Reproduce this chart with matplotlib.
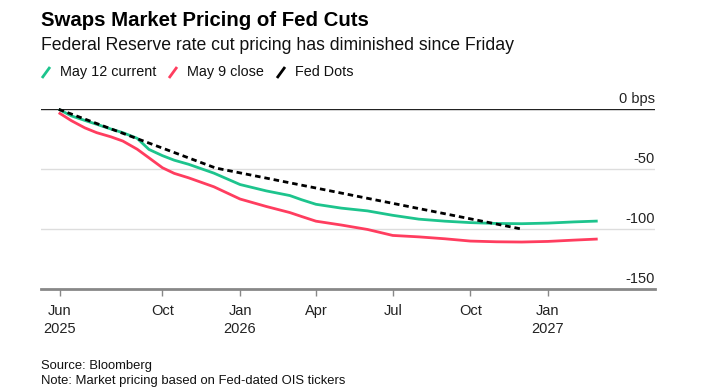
import numpy as np
import pandas as pd
import matplotlib
matplotlib.use("Agg")
import matplotlib.pyplot as plt
from matplotlib.lines import Line2D
from matplotlib.transforms import blended_transform_factory

plt.rcParams["font.family"] = ["Liberation Sans", "DejaVu Sans"]

# ── data (bps of cuts priced) ───────────────────────────────────────────────
dates = pd.to_datetime([
    "2025-05-31", "2025-06-15", "2025-07-01", "2025-07-15", "2025-08-01",
    "2025-08-15", "2025-09-01", "2025-09-15", "2025-10-01", "2025-10-15",
    "2025-11-01", "2025-12-01", "2026-01-01", "2026-02-01", "2026-03-01",
    "2026-03-15", "2026-04-01", "2026-05-01", "2026-06-01", "2026-07-01",
    "2026-08-01", "2026-09-01", "2026-10-01", "2026-11-01", "2026-12-01",
    "2027-01-01", "2027-02-01", "2027-03-01",
])
may12_current = [
    0, -5.5, -9.3, -12.5, -16.5,
    -19.5, -24.2, -33.5, -38.7, -42.5,
    -45.9, -53.3, -62.8, -68.1, -72.0,
    -75.5, -79.3, -82.5, -84.8, -88.5,
    -91.7, -93.4, -94.6, -95.3, -95.5,
    -95.0, -94.0, -93.3,
]
may9_close = [
    -2.8, -9.5, -15.5, -19.5, -23.0,
    -26.5, -33.3, -40.5, -48.8, -53.5,
    -57.2, -64.7, -74.9, -81.1, -86.2,
    -89.5, -93.4, -96.6, -100.3, -105.3,
    -106.5, -108.1, -110.0, -110.6, -110.8,
    -110.3, -109.2, -108.3,
]
dots_dates = pd.to_datetime(["2025-05-31", "2025-12-03", "2026-12-01"])
fed_dots = [0, -49, -100]

y_ticks = [0, -50, -100, -150]
y_labels = ["0 bps", "-50", "-100", "-150"]
x_ticks = pd.to_datetime(["2025-06-01", "2025-10-01", "2026-01-01", "2026-04-01",
                          "2026-07-01", "2026-10-01", "2027-01-01"])
x_labels = ["Jun\n2025", "Oct", "Jan\n2026", "Apr", "Jul", "Oct", "Jan\n2027"]

GREEN = "#1dc48d"
RED = "#ff3d5f"

# ── figure ──────────────────────────────────────────────────────────────────
fig = plt.figure(figsize=(7.23, 3.88), dpi=100)
ax = fig.add_axes([0.0567, 0.2552, 0.8493, 0.4631])

ax.plot(dates, may12_current, color=GREEN, lw=2.0, solid_capstyle="butt",
        solid_joinstyle="round", clip_on=False, zorder=3)
ax.plot(dates, may9_close, color=RED, lw=2.0, solid_capstyle="butt",
        solid_joinstyle="round", clip_on=False, zorder=3)
ax.plot(dots_dates, fed_dots, color="black", lw=2.0, dashes=(2.0, 1.4),
        clip_on=False, zorder=4)

ax.set_xlim(pd.Timestamp("2025-05-10"), pd.Timestamp("2027-05-08"))
ax.set_ylim(-150, 0)

# grid lines + zero line
for v in y_ticks[1:-1]:
    ax.axhline(v, color="#dddddd", lw=1.0, zorder=1)
ax.axhline(0, color="#222222", lw=1.0, zorder=2)

# y labels sit above their gridlines, inside at the right
tr = blended_transform_factory(ax.transAxes, ax.transData)
for v, lab in zip(y_ticks, y_labels):
    ax.text(1.0, v + 2.8, lab, transform=tr, ha="right", va="bottom",
            fontsize=10.5, color="#222222")
ax.set_yticks([])

ax.set_xticks(x_ticks)
ax.set_xticklabels(x_labels, fontsize=10.5, color="#222222", linespacing=1.35)
ax.tick_params(axis="x", direction="out", length=5, width=1, color="#888888", pad=6)

for s in ["top", "right", "left"]:
    ax.spines[s].set_visible(False)
ax.spines["bottom"].set_color("#888888")
ax.spines["bottom"].set_linewidth(2)

# ── titles ──────────────────────────────────────────────────────────────────
fig.text(0.0567, 1 - 20 / 388, "Swaps Market Pricing of Fed Cuts", fontsize=14.7,
         fontweight="bold", color="black", va="center", ha="left")
fig.text(0.0567, 1 - 46 / 388, "Federal Reserve rate cut pricing has diminished since Friday",
         fontsize=12.7, color="#111111", va="center", ha="left")

# legend: slash icons + labels
legend_items = [("May 12 current", GREEN, 41), ("May 9 close", RED, 168), ("Fed Dots", "black", 276)]
for lab, col, x0 in legend_items:
    y0 = 72
    fig.add_artist(Line2D([(x0 + 1) / 723, (x0 + 9) / 723],
                          [1 - (y0 + 6) / 388, 1 - (y0 - 5) / 388],
                          color=col, lw=2.0, solid_capstyle="butt"))
    fig.text((x0 + 19) / 723, 1 - y0 / 388, lab, fontsize=10.4, color="#111111",
             va="center", ha="left")

# ── footer ──────────────────────────────────────────────────────────────────
fig.text(0.0567, 1 - 366 / 388, "Source: Bloomberg", fontsize=9.4, color="#111111",
         va="center", ha="left")
fig.text(0.0567, 1 - 381 / 388, "Note: Market pricing based on Fed-dated OIS tickers",
         fontsize=9.4, color="#111111", va="center", ha="left")

fig.savefig("out.png", dpi=100, facecolor="white")
